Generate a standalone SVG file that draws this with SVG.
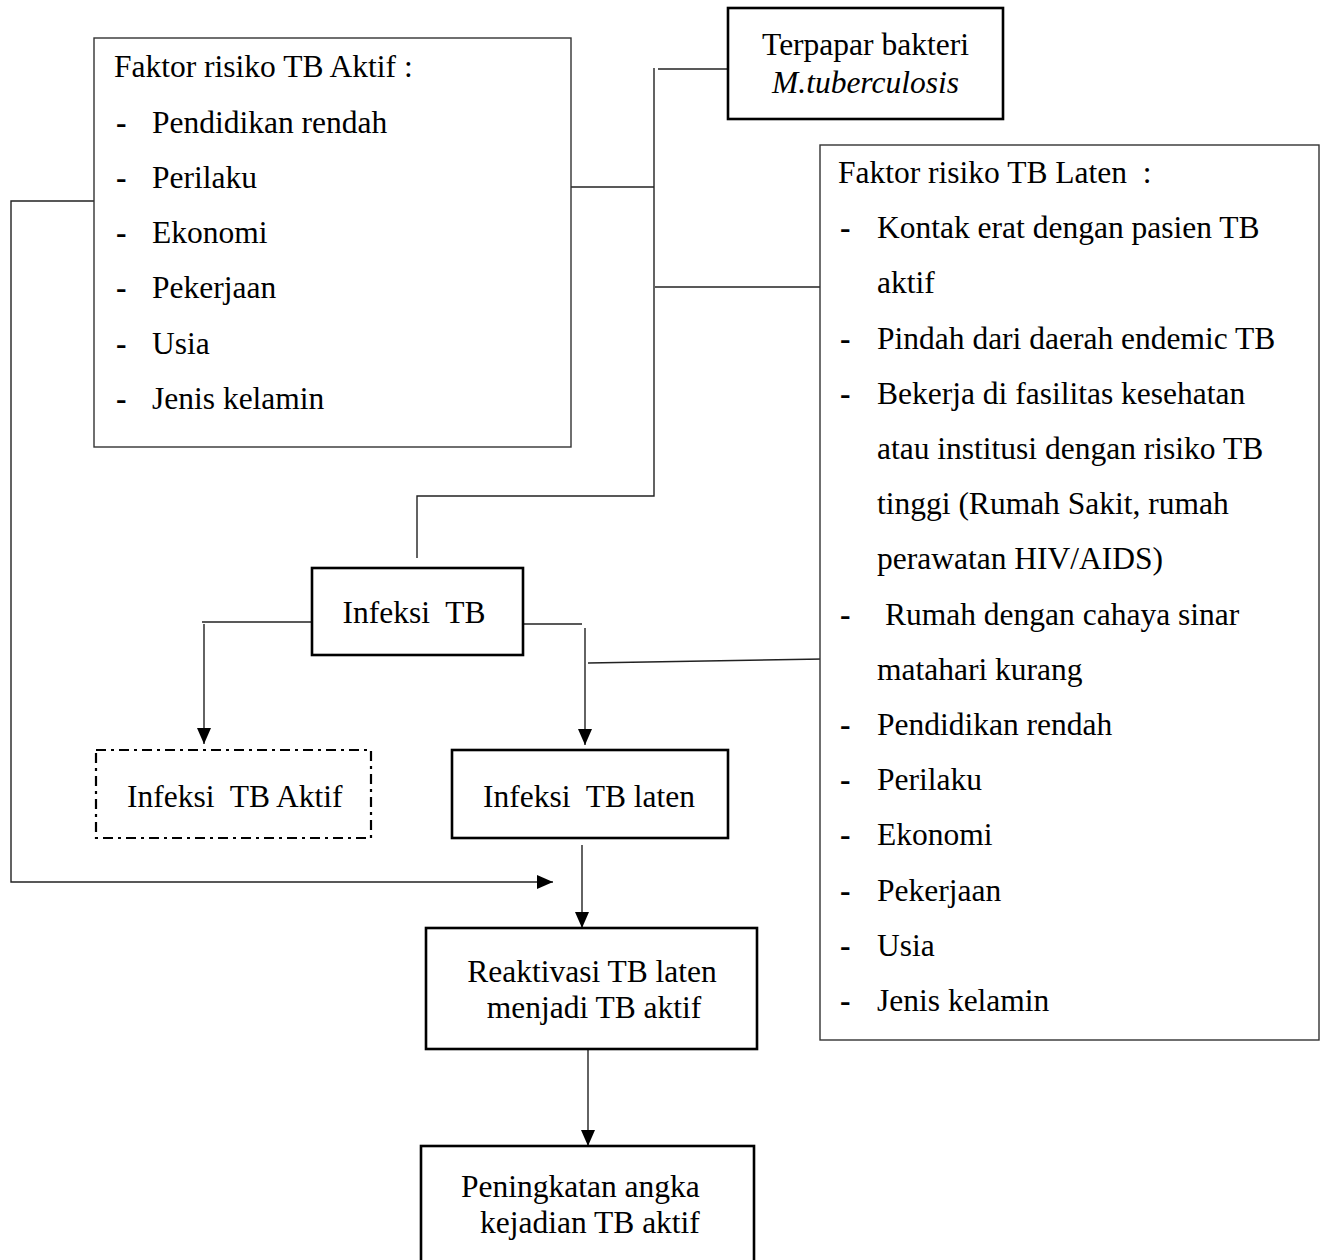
<svg xmlns="http://www.w3.org/2000/svg" width="1324" height="1260" viewBox="0 0 1324 1260">
<defs>
<style>
text{font-family:"Liberation Serif","Times New Roman",serif;font-size:31.5px;fill:#000}
.b{font-weight:bold}
.thin{fill:#fff;stroke:#333;stroke-width:1.4}
.thick{fill:#fff;stroke:#000;stroke-width:2.6}
.dash{fill:#fff;stroke:#000;stroke-width:2.2;stroke-dasharray:10 5 3 5}
.c{fill:none;stroke:#222;stroke-width:1.4}
.mid{text-anchor:middle}
</style>
<marker id="ah" markerUnits="userSpaceOnUse" markerWidth="16" markerHeight="14" refX="16" refY="7" orient="auto">
<path d="M0,0 L16,7 L0,14 z" fill="#000"/>
</marker>
</defs>
<rect width="1324" height="1260" fill="#fff"/>

<g id="connectors">
<path class="c" d="M658,69 H727"/>
<path class="c" d="M654,68 V496 H417 V558"/>
<path class="c" d="M568,187 H654"/>
<path class="c" d="M655,287 H823"/>
<path class="c" d="M316,622 H202"/>
<path class="c" d="M204,624 V744" marker-end="url(#ah)"/>
<path class="c" d="M523,624 H582"/>
<path class="c" d="M585,628 V745" marker-end="url(#ah)"/>
<path class="c" d="M588,663 L823,659"/>
<path class="c" d="M97,201 H11 V882 H553" marker-end="url(#ah)"/>
<path class="c" d="M582,845 V928" marker-end="url(#ah)"/>
<path class="c" d="M588,1049 V1146" marker-end="url(#ah)"/>
</g>

<g id="faktor-aktif">
<rect class="thin" x="94" y="38" width="477" height="409"/>
<text x="114" y="77">Faktor risiko TB Aktif :</text>
<text><tspan class="b" x="116" y="132.5">-</tspan><tspan x="152" y="132.5">Pendidikan rendah</tspan></text>
<text><tspan class="b" x="116" y="187.8">-</tspan><tspan x="152" y="187.8">Perilaku</tspan></text>
<text><tspan class="b" x="116" y="243">-</tspan><tspan x="152" y="243">Ekonomi</tspan></text>
<text><tspan class="b" x="116" y="298.3">-</tspan><tspan x="152" y="298.3">Pekerjaan</tspan></text>
<text><tspan class="b" x="116" y="353.6">-</tspan><tspan x="152" y="353.6">Usia</tspan></text>
<text><tspan class="b" x="116" y="409">-</tspan><tspan x="152" y="409">Jenis kelamin</tspan></text>
</g>

<g id="terpapar">
<rect class="thick" x="728" y="8" width="275" height="111"/>
<text class="mid" x="865.5" y="55">Terpapar bakteri</text>
<text class="mid" x="865.5" y="93" font-style="italic">M.tuberculosis</text>
</g>

<g id="faktor-laten">
<rect class="thin" x="820" y="145" width="499" height="895"/>
<text x="838" y="183" xml:space="preserve">Faktor risiko TB Laten  :</text>
<text><tspan class="b" x="840" y="238.2">-</tspan><tspan x="877" y="238.2">Kontak erat dengan pasien TB</tspan></text>
<text x="877" y="293.4">aktif</text>
<text><tspan class="b" x="840" y="348.6">-</tspan><tspan x="877" y="348.6">Pindah dari daerah endemic TB</tspan></text>
<text><tspan class="b" x="840" y="403.8">-</tspan><tspan x="877" y="403.8">Bekerja di fasilitas kesehatan</tspan></text>
<text x="877" y="459">atau institusi dengan risiko TB</text>
<text x="877" y="514.2">tinggi (Rumah Sakit, rumah</text>
<text x="877" y="569.4">perawatan HIV/AIDS)</text>
<text><tspan class="b" x="840" y="624.6">-</tspan><tspan x="885" y="624.6">Rumah dengan cahaya sinar</tspan></text>
<text x="877" y="679.8">matahari kurang</text>
<text><tspan class="b" x="840" y="735">-</tspan><tspan x="877" y="735">Pendidikan rendah</tspan></text>
<text><tspan class="b" x="840" y="790.2">-</tspan><tspan x="877" y="790.2">Perilaku</tspan></text>
<text><tspan class="b" x="840" y="845.4">-</tspan><tspan x="877" y="845.4">Ekonomi</tspan></text>
<text><tspan class="b" x="840" y="900.6">-</tspan><tspan x="877" y="900.6">Pekerjaan</tspan></text>
<text><tspan class="b" x="840" y="955.8">-</tspan><tspan x="877" y="955.8">Usia</tspan></text>
<text><tspan class="b" x="840" y="1011">-</tspan><tspan x="877" y="1011">Jenis kelamin</tspan></text>
</g>

<g id="infeksi-tb">
<rect class="thick" x="312" y="568" width="211" height="87"/>
<text class="mid" x="414" y="623" xml:space="preserve">Infeksi  TB</text>
</g>

<g id="infeksi-tb-aktif">
<rect class="dash" x="96" y="750" width="275" height="88"/>
<text x="127" y="807" xml:space="preserve">Infeksi  TB Aktif</text>
</g>

<g id="infeksi-tb-laten">
<rect class="thick" x="452" y="750" width="276" height="88"/>
<text x="483" y="807" xml:space="preserve">Infeksi  TB laten</text>
</g>

<g id="reaktivasi">
<rect class="thick" x="426" y="928" width="331" height="121"/>
<text class="mid" x="592" y="982">Reaktivasi TB laten</text>
<text class="mid" x="594" y="1018">menjadi TB aktif</text>
</g>

<g id="peningkatan">
<rect class="thick" x="421" y="1146" width="333" height="130"/>
<text x="461" y="1197">Peningkatan angka</text>
<text x="480" y="1233">kejadian TB aktif</text>
</g>
</svg>
